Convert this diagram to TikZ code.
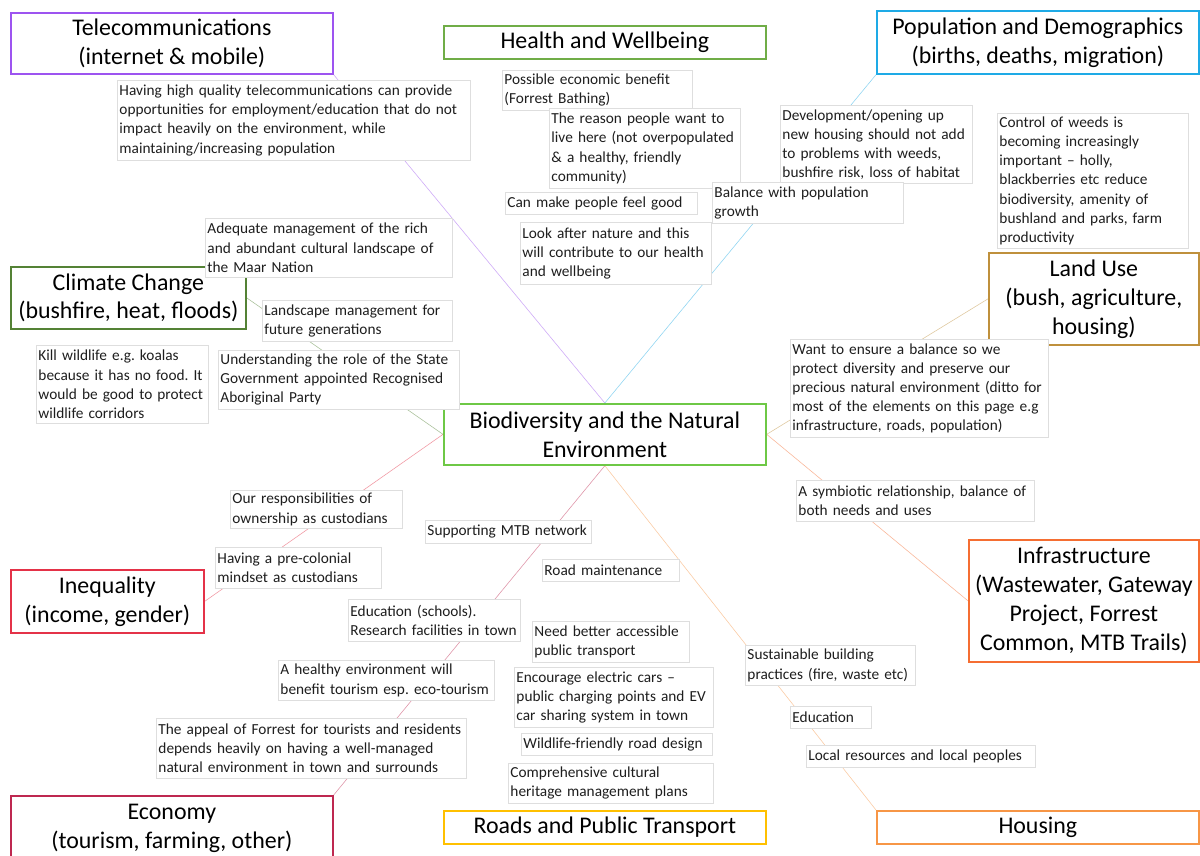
\documentclass[tikz,border=0pt]{standalone}
\usepackage{fontspec}
\setmainfont{Carlito}
\usetikzlibrary{backgrounds}
\hyphenpenalty=10000
\frenchspacing
\definecolor{mappurple}{RGB}{157,84,240}
\definecolor{mapleaf}{RGB}{112,173,71}
\definecolor{mapcyan}{RGB}{30,170,230}
\definecolor{mapforest}{RGB}{84,130,53}
\definecolor{mapochre}{RGB}{191,144,60}
\definecolor{maplime}{RGB}{110,200,70}
\definecolor{maporange}{RGB}{245,110,50}
\definecolor{mapred}{RGB}{228,50,72}
\definecolor{mapcrimson}{RGB}{190,40,80}
\definecolor{mapyellow}{RGB}{255,192,0}
\definecolor{mapamber}{RGB}{247,150,70}
\definecolor{mapedge}{RGB}{222,222,222}
\definecolor{maptext}{RGB}{30,30,30}
\tikzset{
  mtopic/.style={draw=#1,line width=1.2pt,fill=white,align=center,anchor=north west,
                 font=\fontsize{17}{20.6}\selectfont,inner sep=1pt},
  msize/.style 2 args={minimum width=#1*0.025cm,minimum height=#2*0.025cm},
  mnote/.style={draw=mapedge,line width=0.5pt,fill=white,align=left,anchor=north west,
                text=maptext,font=\fontsize{10.9}{13.6}\selectfont,
                inner xsep=1.5pt,inner ysep=2pt},
  nsize/.style 2 args={text width=#1*0.025cm-3pt,minimum height=#2*0.025cm},
  mlink/.style={draw=#1,line width=0.4pt,opacity=0.5},
}

\begin{document}
\begin{tikzpicture}[x=0.025cm,y=-0.025cm]
    \useasboundingbox (0,0) rectangle (1200,855);
    \clip (0,0) rectangle (1200,855);
    % topics
    \node[mtopic=mappurple,msize={322}{61}] (tel) at (10,12) {Telecommunications\\(internet \& mobile)};
    \node[mtopic=mapleaf,msize={322}{33}] (hlth) at (443,25) {Health and Wellbeing};
    \node[mtopic=mapcyan,msize={322}{63}] (pop) at (876,10) {Population and Demographics\\(births, deaths, migration)};
    \node[mtopic=mapforest,msize={235}{62}] (clim) at (10,266) {Climate Change\\(bushfire, heat, floods)};
    \node[mtopic=mapochre,msize={210}{92}] (land) at (988,252) {Land Use\\(bush, agriculture,\\housing)};
    \node[mtopic=maplime,msize={322}{61}] (bio) at (443,403) {Biodiversity and the Natural\\Environment};
    \node[mtopic=maporange,msize={230}{122}] (infra) at (968,539) {Infrastructure\\(Wastewater, Gateway\\Project, Forrest\\Common, MTB Trails)};
    \node[mtopic=mapred,msize={193}{63}] (ineq) at (10,569) {Inequality\\(income, gender)};
    \node[mtopic=mapcrimson,msize={322}{66}] (econ) at (10,795) {Economy\\(tourism, farming, other)};
    \node[mtopic=mapyellow,msize={322}{33}] (road) at (443,810) {Roads and Public Transport};
    \node[mtopic=mapamber,msize={322}{33}] (hous) at (876,810) {Housing};

    % notes
    \node[mnote,nsize={353}{80}] (ntel) at (117,80) {Having high quality telecommunications can provide\\opportunities for employment/education that do not\\impact heavily on the environment, while\\maintaining/increasing population};

    \node[mnote,nsize={190}{40}] (hbath) at (502,70) {Possible economic benefit\\(Forrest Bathing)};
    \node[mnote,nsize={191}{80}] (hlive) at (549,108) {The reason people want to\\live here (not overpopulated\\\& a healthy, friendly\\community)};
    \node[mnote,nsize={192}{22}] (hgood) at (505,192) {Can make people feel good};
    \node[mnote,nsize={191}{62}] (hlook) at (520,222) {Look after nature and this\\will contribute to our health\\and wellbeing};

    \node[mnote,nsize={192}{78}] (pdev) at (780,105) {Development/opening up\\new housing should not add\\to problems with weeds,\\bushfire risk, loss of habitat};
    \node[mnote,nsize={191}{41}] (pbal) at (712,182) {Balance with population\\growth};
    \node[mnote,nsize={191}{135}] (lweed) at (997,113) {Control of weeds is\\becoming increasingly\\important – holly,\\blackberries etc reduce\\biodiversity, amenity of\\bushland and parks, farm\\productivity};

    \node[mnote,nsize={247}{59}] (cmaar) at (205,218) {Adequate management of the rich\\and abundant cultural landscape of\\the Maar Nation};
    \node[mnote,nsize={190}{41}] (cland) at (262,300) {Landscape management for\\future generations};
    \node[mnote,nsize={172}{78}] (ckill) at (36,345) {Kill wildlife e.g. koalas\\because it has no food. It\\would be good to protect\\wildlife corridors};
    \node[mnote,nsize={241}{59}] (cstate) at (218,350) {Understanding the role of the State\\Government appointed Recognised\\Aboriginal Party};

    \node[mnote,nsize={258}{98}] (lbal) at (790,339) {Want to ensure a balance so we\\protect diversity and preserve our\\precious natural environment (ditto for\\most of the elements on this page e.g\\infrastructure, roads, population)};
    \node[mnote,nsize={238}{41}] (isym) at (796,480) {A symbiotic relationship, balance of\\both needs and uses};

    \node[mnote,nsize={172}{38}] (qresp) at (230,490) {Our responsibilities of\\ownership as custodians};
    \node[mnote,nsize={166}{41}] (qpre) at (215,547) {Having a pre-colonial\\mindset as custodians};

    \node[mnote,nsize={172}{42}] (eedu) at (348,599) {Education (schools).\\Research facilities in town};
    \node[mnote,nsize={216}{40}] (ehealth) at (278,660) {A healthy environment will\\benefit tourism esp. eco-tourism};
    \node[mnote,nsize={310}{60}] (eappeal) at (156,718) {The appeal of Forrest for tourists and residents\\depends heavily on having a well-managed\\natural environment in town and surrounds};

    \node[mnote,nsize={166}{23}] (rmtb) at (425,520) {Supporting MTB network};
    \node[mnote,nsize={137}{22}] (rmaint) at (542,559) {Road maintenance};
    \node[mnote,nsize={157}{41}] (rpub) at (532,621) {Need better accessible\\public transport};
    \node[mnote,nsize={199}{60}] (rev) at (514,667) {Encourage electric cars –\\public charging points and EV\\car sharing system in town};
    \node[mnote,nsize={191}{22}] (rwild) at (521,733) {Wildlife-friendly road design};
    \node[mnote,nsize={205}{40}] (rherit) at (508,763) {Comprehensive cultural\\heritage management plans};

    \node[mnote,nsize={170}{40}] (osust) at (745,645) {Sustainable building\\practices (fire, waste etc)};
    \node[mnote,nsize={81}{22}] (oedu) at (790,706) {Education};
    \node[mnote,nsize={229}{22}] (olocal) at (806,745) {Local resources and local peoples};

    \begin{scope}[on background layer]
      \fill[white] (0,0) rectangle (1200,855);
      \draw[mlink=mappurple] (bio.north) -- (tel.south east);
      \draw[mlink=mapcyan] (bio.north) -- (pop.south west);
      \draw[mlink=mapforest] (bio.west) -- (clim.east);
      \draw[mlink=mapred] (bio.west) -- (ineq.east);
      \draw[mlink=mapochre] (bio.east) -- (land.west);
      \draw[mlink=maporange] (bio.east) -- (infra.west);
      \draw[mlink=mapcrimson] (bio.south) -- (econ.north east);
      \draw[mlink=mapamber] (bio.south) -- (hous.north west);
    \end{scope}
\end{tikzpicture}
\end{document}
